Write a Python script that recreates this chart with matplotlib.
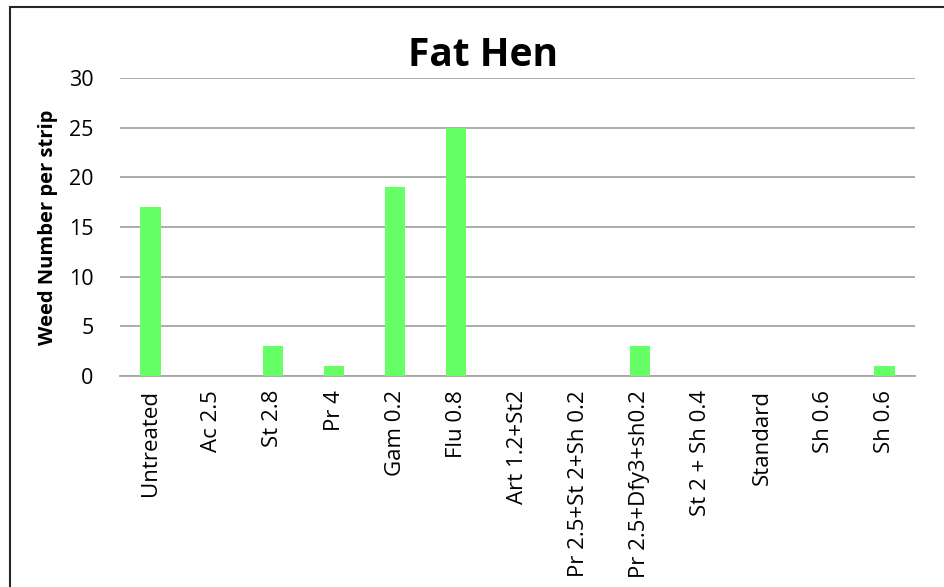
import matplotlib
matplotlib.use("Agg")
import matplotlib.pyplot as plt
from matplotlib.patches import Rectangle

categories = ["Untreated", "Ac 2.5", "St 2.8", "Pr 4", "Gam 0.2", "Flu 0.8",
              "Art 1.2+St2", "Pr 2.5+St 2+Sh 0.2", "Pr 2.5+Dfy3+sh0.2",
              "St 2 + Sh 0.4", "Standard", "Sh 0.6", "Sh 0.6"]
values = [17, 0, 3, 1, 19, 25, 0, 0, 3, 0, 0, 0, 1]
yticks = [0, 5, 10, 15, 20, 25, 30]

plt.rcParams['font.family'] = ['Open Sans', 'DejaVu Sans']

fig = plt.figure(figsize=(9.44, 5.87), dpi=100)
ax = fig.add_axes([120/944, 1-376/587, 795/944, 298/587])

x = list(range(len(categories)))
ax.bar(x, values, width=0.33, color="#66FF66", zorder=3)
ax.set_xlim(-0.5, len(categories)-0.5)
ax.set_ylim(0, 30)
ax.set_yticks(yticks)
ax.set_xticks(x)
ax.set_xticklabels(categories, rotation=90, fontsize=16)
ax.tick_params(axis='y', labelsize=15.5, length=0, pad=19)
ax.tick_params(axis='x', length=0, pad=10)
ax.grid(axis='y', color="#A6A6A6", linewidth=1.3, zorder=0)
for s in ["top", "right", "left"]:
    ax.spines[s].set_visible(False)
ax.spines["bottom"].set_color("#A6A6A6")
ax.spines["bottom"].set_linewidth(1.3)
ax.set_ylabel("Weed Number per strip", fontsize=14.5, fontweight='bold', labelpad=8)
fig.text(483/944, 1-55/587, "Fat Hen", fontsize=28, fontweight='bold',
         ha='center', va='center')

fig.patches.append(Rectangle((10/944, -0.1), 1.2, 1-7/587+0.1, transform=fig.transFigure,
                             fill=False, edgecolor="#262626", linewidth=1.5))

fig.savefig("out.png", dpi=100)
